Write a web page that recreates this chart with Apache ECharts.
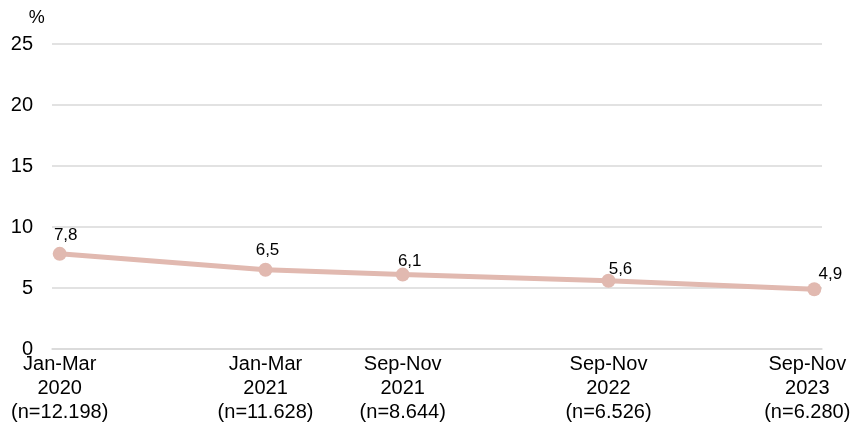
<!DOCTYPE html>
<html>
<head>
<meta charset="utf-8">
<script src="https://cdn.jsdelivr.net/npm/echarts@6/dist/echarts.min.js"></script>
<style>
  html, body { margin: 0; padding: 0; background: #fff; }
  #chart { width: 855px; height: 426px; }
</style>
</head>
<body>
<div id="chart"></div>
<script>
// survey waves, placed on a month scale (0 = Jan-Mar 2020)
const periods = ['Jan-Mar\n2020\n(n=12.198)', 'Jan-Mar\n2021\n(n=11.628)', 'Sep-Nov\n2021\n(n=8.644)', 'Sep-Nov\n2022\n(n=6.526)', 'Sep-Nov\n2023\n(n=6.280)'];
const months = [0, 12, 20, 32, 44];
const shares = [7.8, 6.5, 6.1, 5.6, 4.9];
const yTicks = [0, 5, 10, 15, 20, 25];

// label nudges, as placed in the original
const labelShift = [[6, 0], [2, -1], [7, 5], [12, 7], [16, 4]];

const chart = echarts.init(document.getElementById('chart'));

const lineColor = '#e1b9b0';
const gridColor = '#d9d9d9';
const font = 'Liberation Sans, Arial, sans-serif';

const option = {
  animation: false,
  grid: { left: 52, right: 33, top: 44, bottom: 77, outerBoundsMode: 'none', containLabel: false },
  xAxis: {
    type: 'value',
    min: -0.45,
    max: 44.45,
    splitLine: { show: false },
    axisTick: { show: false },
    axisLine: { show: true, lineStyle: { color: gridColor, width: 1.5 } },
    axisLabel: {
      customValues: months,
      margin: 3,
      fontFamily: font,
      fontSize: 20,
      lineHeight: 24,
      color: '#000',
      formatter: v => {
        const i = months.indexOf(v);
        if (i < 0) return '';
        // last label is pushed left to stay inside the picture
        if (i === months.length - 1) {
          return periods[i].split('\n').map(s => '{last|' + s + '}').join('\n');
        }
        return periods[i];
      },
      rich: {
        last: { fontFamily: font, fontSize: 20, lineHeight: 24, color: '#000', padding: [0, 14, 0, 0] }
      }
    }
  },
  yAxis: {
    type: 'value',
    min: yTicks[0],
    max: yTicks[yTicks.length - 1],
    interval: 5,
    name: '%',
    nameLocation: 'end',
    nameGap: 17,
    nameTextStyle: {
      align: 'right',
      padding: [0, 15, 0, 0],
      fontFamily: font,
      fontSize: 18,
      color: '#000'
    },
    axisLine: { show: false },
    axisTick: { show: false },
    splitLine: { lineStyle: { color: gridColor, width: 1.5 } },
    axisLabel: {
      margin: 19,
      fontFamily: font,
      fontSize: 20,
      color: '#000'
    }
  },
  series: [{
    type: 'line',
    data: months.map((m, i) => ({
      value: [m, shares[i]],
      label: { offset: labelShift[i] }
    })),
    lineStyle: { color: lineColor, width: 5 },
    itemStyle: { color: lineColor },
    symbol: 'circle',
    symbolSize: 14,
    label: {
      show: true,
      position: 'top',
      distance: 3,
      fontFamily: font,
      fontSize: 17,
      color: '#000',
      formatter: p => String(p.value[1]).replace('.', ',')
    }
  }]
};

chart.setOption(option);
</script>
</body>
</html>
